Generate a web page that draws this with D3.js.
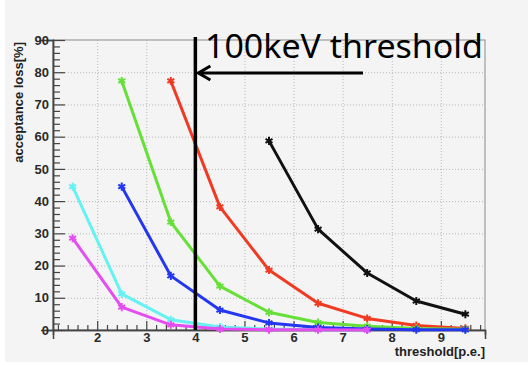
<!DOCTYPE html>
<html>
<head>
<meta charset="utf-8">
<script src="https://cdn.jsdelivr.net/npm/d3@7"></script>
<style>
  body { margin: 0; background: #fff; }
  svg { display: block; }
</style>
</head>
<body>
<svg id="chart" width="528" height="365"></svg>
<script>
// thresholds in p.e. (bin centres)
var thresholds = [1.5, 2.5, 3.5, 4.5, 5.5, 6.5, 7.5, 8.5, 9.5];

// acceptance loss [%] per curve, null where no point
var lossBlack   = [null, null, null, null, 58.7, 31.3, 17.7, 9.0, 4.9];
var lossRed     = [null, null, 77.3, 38.2, 18.6, 8.3, 3.6, 1.4, 0.5];
var lossGreen   = [null, 77.3, 33.5, 13.6, 5.5, 2.3, 1.2, 0.5, 0.2];
var lossCyan    = [44.5, 11.2, 3.2, 0.9, 0.3, 0.1, 0.05, null, null];
var lossBlue    = [null, 44.5, 16.8, 6.2, 2.2, 0.8, 0.3, 0.1, 0.05];
var lossMagenta = [28.5, 7.1, 1.6, 0.3, 0.1, 0.05, 0.0, null, null];

var xTicks = [2, 3, 4, 5, 6, 7, 8, 9];
var yTicks = [0, 10, 20, 30, 40, 50, 60, 70, 80, 90];
var cutValue = 4;
var noteText = "100keV threshold";

var series = [
  { values: lossBlack,   color: "#111111" },
  { values: lossRed,     color: "#f03a22" },
  { values: lossGreen,   color: "#66e038" },
  { values: lossCyan,    color: "#66f2f2" },
  { values: lossBlue,    color: "#2336f0" },
  { values: lossMagenta, color: "#e44ef0" }
];

var svg = d3.select("#chart");
var padL = 53, padR = 485, padT = 40, padB = 330;

// pad
svg.append("rect")
  .attr("x", 5).attr("y", 0)
  .attr("width", 523).attr("height", 362)
  .attr("fill", "#f4f4f4");

var x = d3.scaleLinear().domain([1.1, 9.9]).range([padL, padR]);
var y = d3.scaleLinear().domain([0, 90]).range([padB, padT]);

// grid
var grid = svg.append("g").attr("stroke", "#b8b8b8").attr("stroke-width", 1)
  .attr("stroke-dasharray", "1,2");
grid.selectAll("line.gx").data(xTicks).enter().append("line")
  .attr("x1", d => x(d) + 0.5).attr("x2", d => x(d) + 0.5)
  .attr("y1", padT).attr("y2", padB);
grid.selectAll("line.gy").data(yTicks.slice(1, -1)).enter().append("line")
  .attr("x1", padL).attr("x2", padR)
  .attr("y1", d => y(d) + 0.5).attr("y2", d => y(d) + 0.5);

// frame
svg.append("rect")
  .attr("x", padL).attr("y", padT)
  .attr("width", padR - padL).attr("height", padB - padT)
  .attr("fill", "none").attr("stroke", "#8a8a8a").attr("stroke-width", 1);

// axes
var xAxis = d3.axisBottom(x).tickValues(xTicks).tickSize(9).tickFormat(d3.format("d"));
var xMinor = d3.axisBottom(x)
  .tickValues(d3.range(12, 99, 2).map(d => d / 10).filter(d => Math.abs(d - Math.round(d)) > 0.01))
  .tickSize(5).tickFormat("");
var yAxis = d3.axisLeft(y).tickValues(yTicks).tickSize(12).tickFormat(d3.format("d"));
var yMinor = d3.axisLeft(y)
  .tickValues(d3.range(0, 91, 2).filter(d => d % 10 !== 0))
  .tickSize(7).tickFormat("");

function styleAxis(g) {
  g.select(".domain").attr("stroke", "#444").attr("stroke-width", 1.5);
  g.selectAll(".tick line").attr("stroke", "#444").attr("stroke-width", 1.2);
  g.selectAll(".tick text")
    .attr("fill", "#2a2a2a")
    .style("font-family", "Liberation Sans, Arial, sans-serif")
    .style("font-weight", "bold")
    .style("font-size", "13px");
}

svg.append("g").attr("transform", "translate(0," + padB + ")")
  .call(xMinor).call(styleAxis)
  .selectAll(".tick line").attr("y2", -5);
var gx = svg.append("g").attr("transform", "translate(0," + padB + ")")
  .call(xAxis).call(styleAxis);
gx.selectAll(".tick line").attr("y2", -9);
gx.selectAll(".tick text").attr("y", 3);

svg.append("g").attr("transform", "translate(" + padL + ",0)")
  .call(yMinor).call(styleAxis)
  .selectAll(".tick line").attr("x2", 7);
var gy = svg.append("g").attr("transform", "translate(" + padL + ",0)")
  .call(yAxis).call(styleAxis);
gy.selectAll(".tick line").attr("x2", 12);
gy.selectAll(".tick text").attr("x", -4);

// axis titles
svg.append("text")
  .attr("transform", "translate(23," + (padT + 2) + ") rotate(-90)")
  .attr("text-anchor", "end")
  .style("font-family", "Liberation Sans, Arial, sans-serif")
  .style("font-weight", "bold").style("font-size", "13px")
  .attr("fill", "#222")
  .text("acceptance loss[%]");

svg.append("text")
  .attr("x", padR).attr("y", 356)
  .attr("text-anchor", "end")
  .style("font-family", "Liberation Sans, Arial, sans-serif")
  .style("font-weight", "bold").style("font-size", "13px")
  .attr("fill", "#222")
  .text("threshold[p.e.]");

// curves
var line = d3.line()
  .defined(d => d.v !== null)
  .x(d => x(d.t))
  .y(d => y(d.v));

var star = d3.symbol().type(d3.symbolAsterisk).size(45);

series.forEach(function (s) {
  var pts = thresholds.map((t, i) => ({ t: t, v: s.values[i] }));
  svg.append("path")
    .datum(pts)
    .attr("d", line)
    .attr("fill", "none")
    .attr("stroke", s.color)
    .attr("stroke-width", 3)
    .attr("stroke-linejoin", "round");
  svg.append("g").selectAll("path")
    .data(pts.filter(d => d.v !== null))
    .enter().append("path")
    .attr("transform", d => "translate(" + x(d.t) + "," + y(d.v) + ")")
    .attr("d", star)
    .attr("fill", "none")
    .attr("stroke", s.color)
    .attr("stroke-width", 2);
});

// threshold marker
svg.append("line")
  .attr("x1", x(cutValue)).attr("x2", x(cutValue))
  .attr("y1", 37).attr("y2", padB)
  .attr("stroke", "#000").attr("stroke-width", 3.5);

svg.append("line")
  .attr("x1", 363).attr("x2", x(cutValue) + 3)
  .attr("y1", 73).attr("y2", 73)
  .attr("stroke", "#000").attr("stroke-width", 3);
svg.append("path")
  .attr("d", "M" + (x(cutValue) + 15) + ",66 L" + (x(cutValue) + 3) + ",73 L" + (x(cutValue) + 15) + ",80")
  .attr("fill", "none").attr("stroke", "#000").attr("stroke-width", 3);

svg.append("text")
  .attr("x", 205).attr("y", 58)
  .attr("textLength", 278).attr("lengthAdjust", "spacingAndGlyphs")
  .style("font-family", "Noto Sans, DejaVu Sans, sans-serif")
  .style("font-size", "32px")
  .attr("fill", "#000")
  .text(noteText);
</script>
</body>
</html>
